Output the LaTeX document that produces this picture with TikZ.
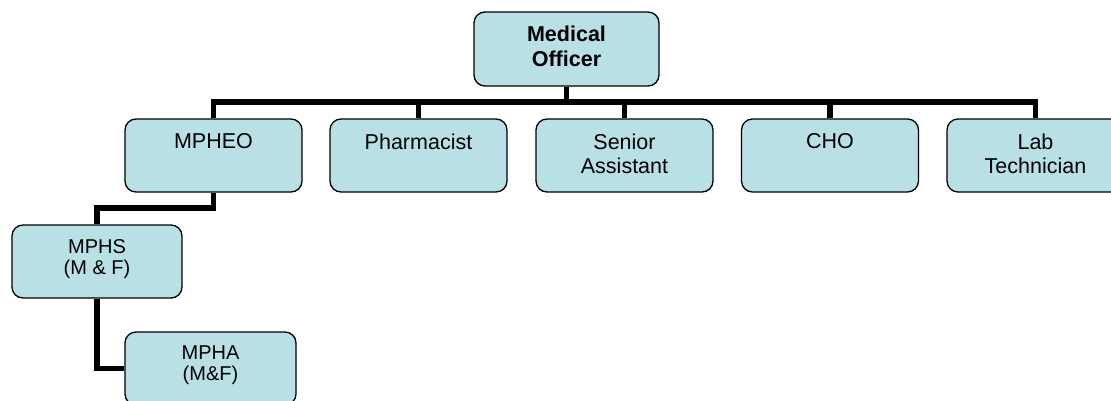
\documentclass[tikz,border=0pt]{standalone}
\usepackage{fontspec}
\setmainfont{Liberation Sans}
\definecolor{boxfill}{RGB}{185,224,228}
\begin{document}
\begin{tikzpicture}[x=1pt,y=-1pt,
  orgbox/.style={draw=black, line width=1.3pt, fill=boxfill, rounded corners=11pt,
    minimum width=177pt, minimum height=73pt, inner sep=0pt},
  txt/.style={inner sep=0pt, align=center, font=\fontsize{21.5}{24.5}\selectfont},
  smalltxt/.style={inner sep=0pt, align=center, font=\fontsize{20}{21}\selectfont},
  conn/.style={line width=5.5pt, line cap=butt, line join=miter}]
\useasboundingbox (0,0) rectangle (1111,400);
\clip (0,0) rectangle (1111,400);
% connectors
\coordinate (busl) at (213.5,102);
\coordinate (busr) at (1035.5,102);
\coordinate (elbow) at (213.5,208);
% boxes
\node[orgbox, minimum width=185pt, minimum height=74pt] (mo) at (566.5,49) {};
\node[orgbox] (mpheo) at (213.5,155.5) {};
\node[orgbox] (pharm) at (418.5,155.5) {};
\node[orgbox] (senior) at (624.5,155.5) {};
\node[orgbox] (cho) at (830,155.5) {};
\node[orgbox] (lab) at (1035.5,155.5) {};
\node[orgbox, minimum width=170pt] (mphs) at (97,261.5) {};
\node[orgbox, minimum width=171pt] (mpha) at (210.5,368.5) {};
% texts
\node[txt, anchor=north, font=\bfseries\fontsize{21.5}{25}\selectfont] (mo-t) at ([yshift=-14.5pt]mo.north) {Medical\\Officer};
\node[txt, anchor=north] (mpheo-t) at ([yshift=-15pt]mpheo.north) {MPHEO};
\node[txt, anchor=north] (pharm-t) at ([yshift=-15pt]pharm.north) {Pharmacist};
\node[txt, anchor=north] (senior-t) at ([yshift=-15pt]senior.north) {Senior\\Assistant};
\node[txt, anchor=north] (cho-t) at ([yshift=-15pt]cho.north) {CHO};
\node[txt, anchor=north] (lab-t) at ([yshift=-15pt]lab.north) {Lab\\Technician};
\node[smalltxt, anchor=north] (mphs-t) at ([yshift=-15pt]mphs.north) {MPHS\\(M \& F)};
\node[smalltxt, anchor=north] (mpha-t) at ([yshift=-14pt]mpha.north) {MPHA\\(M\&F)};
% connectors
\draw[conn, line cap=rect] (busl) -- (busr);
\draw[conn] (mo.south) -- (mo.south |- busl);
\foreach \n in {mpheo,pharm,senior,cho,lab}
  \draw[conn] (\n.north) -- (\n.north |- busl);
\draw[conn] (mpheo.south) -- (elbow) -| (mphs.north);
\draw[conn] (mphs.south) |- (mpha.west);
\end{tikzpicture}
\end{document}
